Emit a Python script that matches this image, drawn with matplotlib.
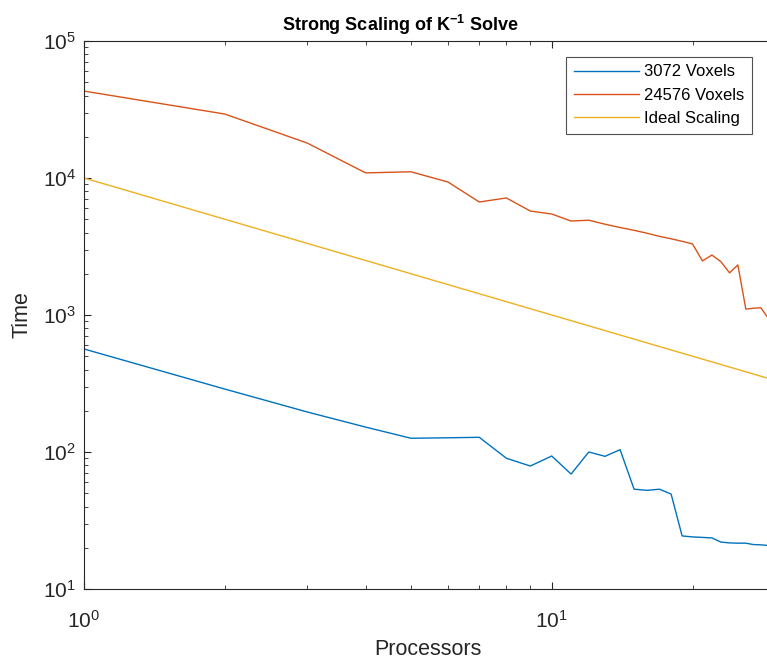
import matplotlib
matplotlib.use("Agg")
import matplotlib.pyplot as plt
from matplotlib.ticker import LogLocator, NullFormatter

plt.rcParams['font.family'] = ['Liberation Sans', 'DejaVu Sans']
plt.rcParams['mathtext.fontset'] = 'custom'
plt.rcParams['mathtext.rm'] = 'Liberation Sans'
plt.rcParams['mathtext.bf'] = 'Liberation Sans:bold'
plt.rcParams['mathtext.it'] = 'Liberation Sans:italic'

# ---- data ----
procs_small = [1, 2, 3, 4, 5, 6, 7, 8, 9, 10, 11, 12, 13, 14, 15, 16, 17, 18,
               19, 20, 21, 22, 23, 24, 25, 26, 27, 28, 29]
time_small = [565, 288, 196, 152, 126, 127, 128, 90, 79, 93.5, 69, 100, 93, 104,
              53.5, 52.5, 53.5, 49.3, 24.4, 24.0, 23.8, 23.6, 22.0, 21.7, 21.6,
              21.6, 21.1, 21.0, 20.8]

procs_large = [1, 2, 3, 4, 5, 6, 7, 8, 9, 10, 11, 12, 13, 14, 15, 16, 17, 18,
               19, 20, 21, 22, 23, 24, 25, 26, 27, 28, 29]
time_large = [43100, 29300, 18000, 10900, 11100, 9350, 6680, 7150, 5740, 5460,
              4850, 4920, 4600, 4350, 4150, 3950, 3750, 3600, 3450, 3300, 2480,
              2740, 2450, 2030, 2320, 1105, 1120, 1130, 950]

procs_ideal = [1, 29]
time_ideal = [10000, 345]

labels = ['3072 Voxels', '24576 Voxels', 'Ideal Scaling']
colors = ['#0072BD', '#D95319', '#EDB120']

W, H = 767, 660
fig = plt.figure(figsize=(W / 100, H / 100), dpi=100)
left_px, right_px = 84, 788
top_px, bottom_px = 41, 589
ax = fig.add_axes([left_px / W, 1 - bottom_px / H,
                   (right_px - left_px) / W, (bottom_px - top_px) / H])

ax.plot(procs_small, time_small, color=colors[0], lw=1.0, label=labels[0])
ax.plot(procs_large, time_large, color=colors[1], lw=1.0, label=labels[1])
ax.plot(procs_ideal, time_ideal, color=colors[2], lw=1.0, label=labels[2])

ax.set_xscale('log')
ax.set_yscale('log')
ax.set_xlim(1, 32)
ax.set_ylim(10, 1e5)

ax.xaxis.set_major_locator(LogLocator(base=10, numticks=10))
ax.yaxis.set_major_locator(LogLocator(base=10, numticks=10))
ax.xaxis.set_minor_locator(LogLocator(base=10, subs=range(2, 10), numticks=20))
ax.yaxis.set_minor_locator(LogLocator(base=10, subs=range(2, 10), numticks=20))
ax.xaxis.set_minor_formatter(NullFormatter())
ax.yaxis.set_minor_formatter(NullFormatter())

spine_col = '#262626'
for s in ax.spines.values():
    s.set_color(spine_col)
    s.set_linewidth(0.8)

ax.tick_params(which='both', direction='in', top=True, right=True,
               colors=spine_col, labelcolor=spine_col)
ax.tick_params(which='major', length=5, width=0.8, labelsize=15)
ax.tick_params(axis='x', which='major', pad=15)
ax.tick_params(axis='y', which='major', pad=6)
ax.tick_params(which='minor', length=3, width=0.6)

ax.set_title(r'Strong Scaling of $\mathbf{K^{-1}}$ Solve', fontsize=13,
             fontweight='bold', pad=7, x=(400 - left_px) / (right_px - left_px))
ax.set_xlabel('Processors', fontsize=15.5, color=spine_col, labelpad=5,
              x=(428 - left_px) / (right_px - left_px))
ax.set_ylabel('Time', fontsize=15.5, color=spine_col, labelpad=7)

leg = ax.legend(loc='upper left', bbox_to_anchor=((566 - left_px) / (right_px - left_px),
                                                   1 - (57 - top_px) / (bottom_px - top_px)),
                prop={'size': 12}, frameon=True, fancybox=False, handlelength=3.9,
                borderpad=0.45, labelspacing=0.5, handletextpad=0.35,
                borderaxespad=0)
leg.get_frame().set_edgecolor(spine_col)
leg.get_frame().set_linewidth(0.8)

fig.savefig('out.png', dpi=100)
